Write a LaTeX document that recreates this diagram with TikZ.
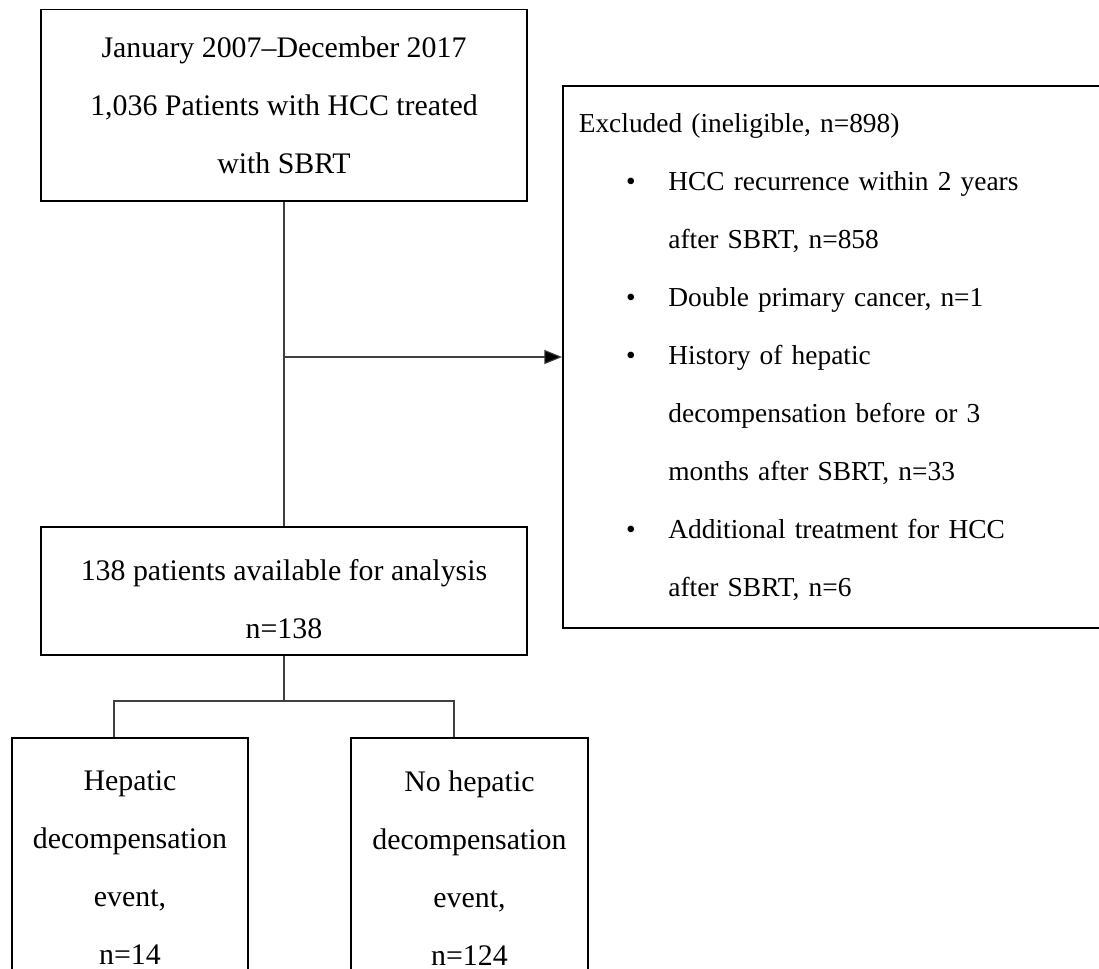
\documentclass[tikz,border=0pt]{standalone}
\usepackage{fontspec}
\setmainfont{Liberation Serif}
\usetikzlibrary{arrows.meta}

\newcommand{\bul}{\hspace*{27pt}\makebox[24pt][l]{\textbullet}}
\newcommand{\cont}{\hspace*{51pt}}

\begin{document}
\begin{tikzpicture}[x=0.02cm, y=-0.02cm,
    box/.style={draw, line width=0.9pt, font=\fontsize{17}{33}\selectfont, align=center, inner sep=0pt},
    link/.style={draw=black!75, line width=0.6pt}]
    \useasboundingbox (0,0) rectangle (1099,968);

    \node[box, minimum width=9.72cm, minimum height=3.83cm] (start) at (284,105.25)
        {January 2007--December 2017\\1,036 Patients with HCC treated\\with SBRT};

    \node[box, minimum width=9.72cm, minimum height=2.56cm] (avail) at (284,591)
        {\rule{0pt}{21pt}138 patients available for analysis\\n=138};

    \node[box, anchor=west, align=left, text width=10.4cm, inner xsep=0.32cm, minimum height=10.84cm,
          font=\fontsize{15.6}{33}\selectfont] (excl) at (562,357)
        {Excluded (ineligible, n=898)\\
         \bul HCC recurrence within 2 years\\
         \cont after SBRT, n=858\\
         \bul Double primary cancer, n=1\\
         \bul History of hepatic\\
         \cont decompensation before or 3\\
         \cont months after SBRT, n=33\\
         \bul Additional treatment for HCC\\
         \cont after SBRT, n=6};

    \node[box, anchor=north, minimum width=4.72cm, minimum height=5.2cm] (hep) at (130,737)
        {Hepatic\\decompensation\\event,\\n=14};
    \node[box, anchor=north, minimum width=4.74cm, minimum height=5.2cm] (nohep) at (469.5,737)
        {No hepatic\\decompensation\\event,\\n=124};

    \coordinate (split) at (284,701);
    \coordinate (bl) at (114,701);
    \coordinate (br) at (454,701);

    \draw[link] (start.south) -- (avail.north);
    \draw[link, -{Triangle[length=10pt, width=8pt, fill=black]}] (start.south |- excl.west) -- (excl.west);
    \draw[link] (avail.south) -- (split);
    \draw[link] (hep.north -| bl) -- (bl) -- (br) -- (nohep.north -| br);
\end{tikzpicture}
\end{document}
